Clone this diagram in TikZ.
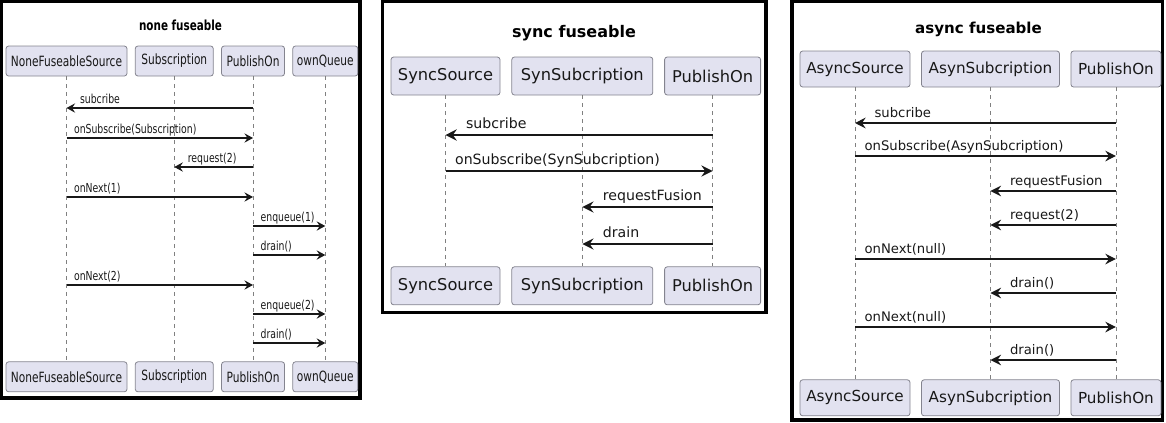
\documentclass[tikz,border=0pt]{standalone}
\usepackage{fontspec}
\usepackage{xcolor}
\usepackage{tikz}
\usetikzlibrary{arrows.meta,positioning}

\newfontfamily\plantfont{DejaVu Sans}
\newfontfamily\narrowfont{DejaVu Sans}[FakeStretch=0.75]
\definecolor{partfill}{HTML}{E2E2F0}
\definecolor{partline}{HTML}{84848F}
\definecolor{ink}{HTML}{181818}

\begin{document}
\begin{tikzpicture}[
  x=0.75pt, y=-0.75pt,
  panel/.style={draw=black,line width=2.5pt},
  part/.style={draw=partline,fill=partfill,rounded corners=2pt,line width=0.6pt,inner sep=0pt,text=ink},
  life/.style={draw=gray,line width=0.5pt,dash pattern=on 3pt off 3pt},
  msg/.style={draw=ink,line width=0.9pt},
  lbl/.style={anchor=base west,inner sep=0pt,text=ink},
  ttl/.style={inner sep=0pt,text=black}
]
\useasboundingbox (0,0) rectangle (1166,422);

% none fuseable
\begin{scope}[
  part/.append style={font=\narrowfont\fontsize{10.6}{12}\selectfont,minimum height=22.5pt},
  lbl/.append style={font=\narrowfont\fontsize{9.3}{11}\selectfont},
  ttl/.append style={font=\narrowfont\bfseries\fontsize{10.4}{12}\selectfont},
  msg/.append style={-{Stealth[length=6.5pt,width=7pt,inset=2.4pt]}},
  lblL/.style={lbl,xshift=9.75pt,yshift=3.75pt},
  lblR/.style={lbl,xshift=5.25pt,yshift=3.75pt},
  node distance=5.6pt
]
\draw[panel] (1,1) rectangle (360,398);
\node[ttl] (noneTitle) at (180.5,25) {none fuseable};
\node[part,minimum width=90.75pt] (nfsTop) at (66.5,61) {NoneFuseableSource};
\node[part,minimum width=58.5pt,right=of nfsTop] (subTop) {Subscription};
\node[part,minimum width=47.25pt,right=of subTop] (pubTop) {PublishOn};
\node[part,minimum width=48.75pt,right=of pubTop] (queTop) {ownQueue};
\node[part,minimum width=90.75pt,below=213.75pt of nfsTop] (nfsBot) {NoneFuseableSource};
\node[part,minimum width=58.5pt,below=213.75pt of subTop] (subBot) {Subscription};
\node[part,minimum width=47.25pt,below=213.75pt of pubTop] (pubBot) {PublishOn};
\node[part,minimum width=48.75pt,below=213.75pt of queTop] (queBot) {ownQueue};

\draw[life] (nfsTop) -- (nfsBot);
\draw[life] (subTop) -- (subBot);
\draw[life] (pubTop) -- (pubBot);
\draw[life] (queTop) -- (queBot);

\draw[msg] (pubTop |- 0,108) -- (nfsTop |- 0,108) node[lblL]{subcribe};
\draw[msg] (nfsTop |- 0,138) node[lblR]{onSubscribe(Subscription)} -- (pubTop |- 0,138);
\draw[msg] (pubTop |- 0,167) -- (subTop |- 0,167) node[lblL]{request(2)};
\draw[msg] (nfsTop |- 0,197) node[lblR]{onNext(1)} -- (pubTop |- 0,197);
\draw[msg] (pubTop |- 0,226) node[lblR]{enqueue(1)} -- (queTop |- 0,226);
\draw[msg] (pubTop |- 0,255) node[lblR]{drain()} -- (queTop |- 0,255);
\draw[msg] (nfsTop |- 0,285) node[lblR]{onNext(2)} -- (pubTop |- 0,285);
\draw[msg] (pubTop |- 0,314) node[lblR]{enqueue(2)} -- (queTop |- 0,314);
\draw[msg] (pubTop |- 0,343) node[lblR]{drain()} -- (queTop |- 0,343);
\end{scope}

% sync fuseable
\begin{scope}[
  part/.append style={font=\plantfont\fontsize{12.2}{14}\selectfont,minimum height=28.5pt},
  lbl/.append style={font=\plantfont\fontsize{10.6}{12}\selectfont},
  ttl/.append style={font=\plantfont\bfseries\fontsize{12}{14}\selectfont},
  msg/.append style={-{Stealth[length=8.5pt,width=8.5pt,inset=3pt]}},
  lblL/.style={lbl,xshift=15pt,yshift=5.25pt},
  lblR/.style={lbl,xshift=6.75pt,yshift=5.25pt},
  node distance=8.25pt
]
\draw[panel] (382.5,1.5) rectangle (766,312.5);
\node[ttl] (syncTitle) at (574,33) {sync fuseable};
\node[part,minimum width=81.75pt] (syncSrcTop) at (445.5,76) {SyncSource};
\node[part,minimum width=105.75pt,right=of syncSrcTop] (syncSubTop) {SynSubcription};
\node[part,minimum width=72pt,right=of syncSubTop] (syncPubTop) {PublishOn};
\node[part,minimum width=81.75pt,below=128.25pt of syncSrcTop] (syncSrcBot) {SyncSource};
\node[part,minimum width=105.75pt,below=128.25pt of syncSubTop] (syncSubBot) {SynSubcription};
\node[part,minimum width=72pt,below=128.25pt of syncPubTop] (syncPubBot) {PublishOn};

\draw[life] (syncSrcTop) -- (syncSrcBot);
\draw[life] (syncSubTop) -- (syncSubBot);
\draw[life] (syncPubTop) -- (syncPubBot);

\draw[msg] (syncPubTop |- 0,135) -- (syncSrcTop |- 0,135) node[lblL]{subcribe};
\draw[msg] (syncSrcTop |- 0,171) node[lblR]{onSubscribe(SynSubcription)} -- (syncPubTop |- 0,171);
\draw[msg] (syncPubTop |- 0,207) -- (syncSubTop |- 0,207) node[lblL]{requestFusion};
\draw[msg] (syncPubTop |- 0,244) -- (syncSubTop |- 0,244) node[lblL]{drain};
\end{scope}

% async fuseable
\begin{scope}[
  part/.append style={font=\plantfont\fontsize{11.4}{13}\selectfont,minimum height=27pt},
  lbl/.append style={font=\plantfont\fontsize{9.9}{12}\selectfont},
  ttl/.append style={font=\plantfont\bfseries\fontsize{11.3}{13}\selectfont},
  msg/.append style={-{Stealth[length=8pt,width=8pt,inset=2.8pt]}},
  lblL/.style={lbl,xshift=14.25pt,yshift=4.5pt},
  lblR/.style={lbl,xshift=6.75pt,yshift=4.5pt},
  node distance=8pt
]
\draw[panel] (792,1.5) rectangle (1162.5,420);
\node[ttl] (asyncTitle) at (978.5,29) {async fuseable};
\node[part,minimum width=82.5pt] (asyncSrcTop) at (855,69) {AsyncSource};
\node[part,minimum width=103.5pt,right=of asyncSrcTop] (asyncSubTop) {AsynSubcription};
\node[part,minimum width=67.5pt,right=of asyncSubTop] (asyncPubTop) {PublishOn};
\node[part,minimum width=82.5pt,below=219pt of asyncSrcTop] (asyncSrcBot) {AsyncSource};
\node[part,minimum width=103.5pt,below=219pt of asyncSubTop] (asyncSubBot) {AsynSubcription};
\node[part,minimum width=67.5pt,below=219pt of asyncPubTop] (asyncPubBot) {PublishOn};

\draw[life] (asyncSrcTop) -- (asyncSrcBot);
\draw[life] (asyncSubTop) -- (asyncSubBot);
\draw[life] (asyncPubTop) -- (asyncPubBot);

\draw[msg] (asyncPubTop |- 0,123) -- (asyncSrcTop |- 0,123) node[lblL]{subcribe};
\draw[msg] (asyncSrcTop |- 0,156) node[lblR]{onSubscribe(AsynSubcription)} -- (asyncPubTop |- 0,156);
\draw[msg] (asyncPubTop |- 0,191) -- (asyncSubTop |- 0,191) node[lblL]{requestFusion};
\draw[msg] (asyncPubTop |- 0,225) -- (asyncSubTop |- 0,225) node[lblL]{request(2)};
\draw[msg] (asyncSrcTop |- 0,259) node[lblR]{onNext(null)} -- (asyncPubTop |- 0,259);
\draw[msg] (asyncPubTop |- 0,293) -- (asyncSubTop |- 0,293) node[lblL]{drain()};
\draw[msg] (asyncSrcTop |- 0,327) node[lblR]{onNext(null)} -- (asyncPubTop |- 0,327);
\draw[msg] (asyncPubTop |- 0,360) -- (asyncSubTop |- 0,360) node[lblL]{drain()};
\end{scope}
\end{tikzpicture}
\end{document}
